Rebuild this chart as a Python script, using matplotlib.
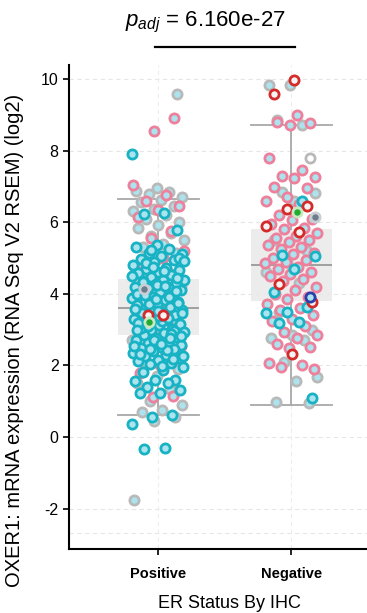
import numpy as np
import matplotlib
matplotlib.use("Agg")
import matplotlib.pyplot as plt

plt.rcParams['font.family'] = ['Liberation Sans', 'DejaVu Sans']
plt.rcParams['mathtext.fontset'] = 'custom'
plt.rcParams['mathtext.rm'] = 'Liberation Sans'
plt.rcParams['mathtext.it'] = 'Liberation Sans:italic'

# ---------------- data ----------------
categories = ["Positive", "Negative"]
y_ticks = [-2, 0, 2, 4, 6, 8, 10]
p_text = "6.160e-27"

# box statistics (whislo, q1, med, q3, whishi)
box_pos = [0.6, 2.85, 3.6, 4.4, 6.65]
box_neg = [0.9, 3.8, 4.8, 5.8, 8.7]

pos_grey = [9.58, 6.95, 6.88, 6.85, 6.8, 6.7, 6.62, 6.55, 6.45, 6.38, 6.3, 6.2, 6.1,
            6.0, 5.92, 5.85, 5.7, 5.6, 5.5, 5.4, 5.3, 5.15, 4.95, 4.75, 4.6, 4.4, 4.2,
            3.9, 3.6, 3.3, 3.0, 2.7, 2.4, 2.1, 1.9, 1.7, 1.5, 1.35, 1.0, 0.9, 0.75,
            0.7, 0.55, 0.45, -1.75]
pos_pink = [8.9, 8.55, 7.04, 6.75, 6.6, 6.45, 6.35, 6.15, 5.75, 5.55, 5.2, 5.0, 4.8,
            4.55, 4.25, 3.95, 3.7, 3.1, 2.55, 2.0, 1.8, 1.15, 1.12]
pos_cyan = [7.9, 6.26, 6.23, 5.78, 5.36, 5.31, 5.25, 5.14, 5.12, 5.05, 4.97, 4.94,
            4.88, 4.8, 4.72, 4.7, 4.66, 4.61, 4.58, 4.52, 4.47, 4.39, 4.38, 4.35, 4.3,
            4.27, 4.19, 4.18, 4.16, 4.1, 4.05, 3.98, 3.95, 3.91, 3.88, 3.83, 3.8, 3.77,
            3.72, 3.68, 3.63, 3.6, 3.55, 3.5, 3.47, 3.42, 3.35, 3.3, 3.27, 3.22, 3.15,
            3.12, 3.08, 3.02, 2.99, 2.93, 2.9, 2.85, 2.8, 2.77, 2.72, 2.66, 2.62, 2.57,
            2.52, 2.49, 2.45, 2.4, 2.35, 2.3, 2.26, 2.21, 2.15, 2.12, 2.07, 2.03, 1.95,
            1.87, 1.82, 1.6, 1.59, 1.56, 1.5, 1.4, 1.31, 1.24, 1.23, 0.61, 0.56, 0.36,
            -0.31, -0.35, 4.45, 4.25, 4.0, 3.9, 3.7, 3.45, 3.25, 3.05, 2.95, 2.7, 2.55,
            2.42, 4.85, 5.0, 3.38, 3.18, 2.88, 5.22, 4.92, 4.63, 4.33, 4.08, 3.86, 3.57,
            3.33, 3.1, 2.83, 2.6, 2.33, 2.18, 4.76, 4.5, 4.22, 3.96, 3.74, 3.52, 2.98,
            2.75, 2.47, 2.25, 1.98]
pos_red = [3.42, 3.42]
pos_green = [3.2]
pos_dark = [4.12]

neg_grey = [9.83, 9.83, 8.7, 6.85, 6.82, 6.6, 5.5, 5.2, 4.9, 4.6, 4.3, 3.5, 3.0, 2.85,
            2.77, 2.7, 2.1, 1.68, 1.57, 0.98, 0.95]
neg_open = [8.85, 7.8]
neg_pink = [9.0, 8.8, 8.77, 8.72, 7.8, 7.46, 7.3, 7.26, 7.23, 6.98, 6.95, 6.7, 6.6, 6.5,
            6.2, 6.1, 6.05, 5.95, 5.85, 5.8, 5.7, 5.6, 5.55, 5.5, 5.45, 5.35, 5.3, 5.25,
            5.15, 5.1, 5.0, 4.95, 4.9, 4.85, 4.75, 4.7, 4.6, 4.55, 4.5, 4.4, 4.35, 4.2,
            4.1, 4.0, 3.9, 3.85, 3.7, 3.6, 3.55, 3.4, 3.3, 3.25, 3.1, 2.94, 2.85, 2.75,
            2.6, 2.52, 2.48, 2.07, 2.0, 1.96, 1.9]
neg_cyan = [6.6, 5.08, 5.06, 4.69, 4.05, 3.63, 3.49, 3.46, 3.21, 3.18, 1.09]
neg_red = [9.97, 9.58, 6.45, 6.37, 5.9, 5.73, 4.27, 3.77, 2.32]
neg_blue = [3.91]
neg_green = [6.29]
neg_dark = [6.15]

# ---------------- style ----------------
FACE = "#ABE3EE"
C_CYAN = "#17B3C4"
C_PINK = "#EE809C"
C_GREY = "#B9B9B9"
C_RED = "#D42A2A"
C_BLUE = "#2A3FA8"

fig = plt.figure(figsize=(3.67, 6.13), dpi=100)
ax = fig.add_axes([0.188, 0.1044, 0.812, 0.7896])

ax.set_xlim(-0.67, 1.57)
ax.set_ylim(-3.13, 10.39)

# grid
for yv in y_ticks + [-2.68]:
    ax.axhline(yv, color="#E6E6E6", lw=0.8, ls=(0, (4, 3)), zorder=0)
for xv in [0, 1]:
    ax.axvline(xv, color="#EDEDED", lw=0.8, ls=(0, (4, 3)), zorder=0)

# boxes
stats = []
for lab, b in zip(categories, [box_pos, box_neg]):
    stats.append(dict(whislo=b[0], q1=b[1], med=b[2], q3=b[3], whishi=b[4], label=lab))
ax.bxp(stats, positions=[0, 1], widths=0.61, patch_artist=True, showfliers=False,
       boxprops=dict(facecolor="#EAEAEA", edgecolor="none", alpha=0.9),
       medianprops=dict(color="#9A9A9A", lw=1.3),
       whiskerprops=dict(color="#A8A8A8", lw=1.3),
       capprops=dict(color="#A8A8A8", lw=1.3), capwidths=0.61, zorder=1)

PHI = 0.6180339887


def jitter(n, start, width=0.2):
    return np.array([((start + i) * PHI) % 1.0 for i in range(n)]) * 2 * width - width


def strip(xc, vals, edge, face=FACE, start=0, s=44, lw=2.0, z=3, width=0.2):
    vals = np.asarray(vals, dtype=float)
    xs = xc + jitter(len(vals), start, width)
    ax.scatter(xs, vals, s=s, facecolor=face, edgecolor=edge, linewidths=lw, zorder=z)


strip(0, pos_grey, C_GREY, start=3, z=2)
strip(0, pos_pink, C_PINK, start=11, z=2.5)
strip(0, pos_cyan, C_CYAN, start=0, z=3)
strip(0, pos_red, C_RED, face="#F4F4F4", start=5, z=4, width=0.09)
strip(0, pos_green, "#C8E8C0", face="#22AA33", start=7, z=4)
strip(0, pos_dark, "#C9CFD4", face="#6C7E8E", start=2, z=4)

strip(1, neg_grey, C_GREY, start=4, z=2)
strip(1, neg_open, C_GREY, face="white", start=2, z=2)
strip(1, neg_pink, C_PINK, start=1, z=3)
strip(1, neg_cyan, C_CYAN, start=6, z=3.5)
strip(1, neg_red, C_RED, face="#F4F4F4", start=9, z=4)
strip(1, neg_blue, C_BLUE, start=3, z=4)
strip(1, neg_green, "#C8E8C0", face="#22AA33", start=1, z=4.5)
strip(1, neg_dark, "#C9CFD4", face="#6C7E8E", start=8, z=4.5)

# axes style
for sp in ["top", "right"]:
    ax.spines[sp].set_visible(False)
for sp in ["left", "bottom"]:
    ax.spines[sp].set_linewidth(1.5)
    ax.spines[sp].set_color("black")
ax.set_yticks(y_ticks)
ax.set_yticklabels([str(t) for t in y_ticks], fontsize=11.5)
ax.set_xticks([0, 1])
ax.set_xticklabels(categories, fontsize=10.5, fontweight="bold")
ax.tick_params(axis="both", length=4, width=1.2, color="black")
ax.tick_params(axis="x", pad=9)

ax.set_ylabel("OXER1: mRNA expression (RNA Seq V2 RSEM) (log2)", fontsize=14.5)
ax.yaxis.set_label_coords(-0.15, 0.43)
ax.set_xlabel("ER Status By IHC", fontsize=13)
ax.xaxis.set_label_coords(0.54, -0.095)

# significance bar and title
ax.plot([-0.02, 1.03], [10.89, 10.89], color="black", lw=1.6, clip_on=False)
fig.text(0.56, 0.963, r"$p_{adj}$ = " + p_text, fontsize=16, ha="center", va="center")

fig.savefig("out.png", dpi=100)
